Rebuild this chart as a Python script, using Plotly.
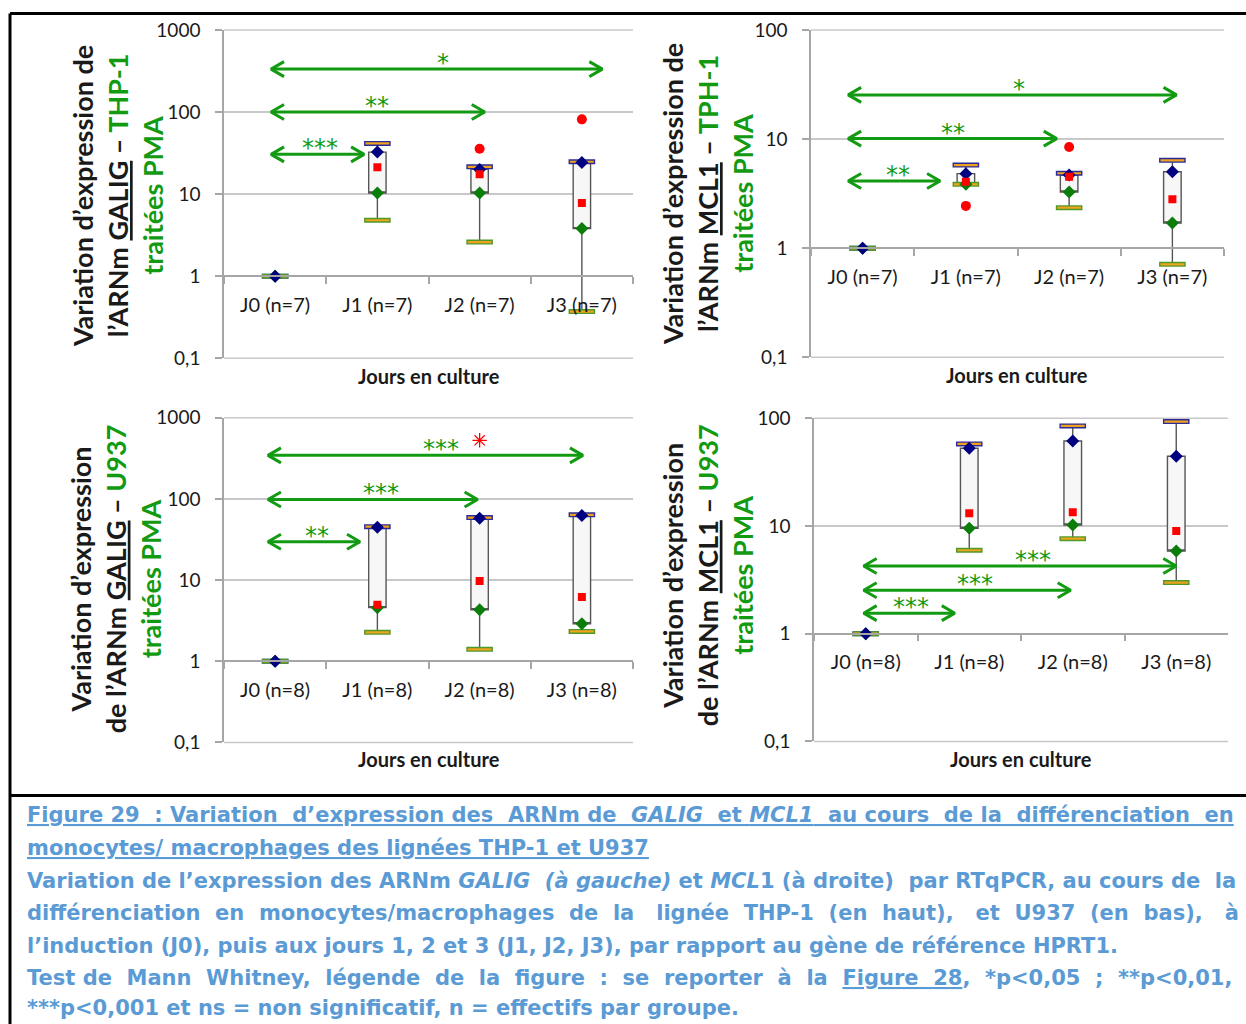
import math
import plotly.graph_objects as go

W, H = 1246, 1024

# ---------------- data ----------------
days_thp1 = ["J0 (n=7)", "J1 (n=7)", "J2 (n=7)", "J3 (n=7)"]
days_u937 = ["J0 (n=8)", "J1 (n=8)", "J2 (n=8)", "J3 (n=8)"]

# GALIG - THP-1
galig_thp1_min = [1.0, 4.8, 2.6, 0.37]
galig_thp1_q1 = [1.0, 10.3, 10.3, 3.8]
galig_thp1_med = [1.0, 21.3, 17.5, 7.8]
galig_thp1_q3 = [1.0, 32.5, 20.0, 24.3]
galig_thp1_max = [1.0, 41.5, 21.5, 24.8]
galig_thp1_out_day = ["J2 (n=7)", "J3 (n=7)"]
galig_thp1_out_val = [35.7, 81.5]

# MCL1 - THP-1
mcl1_thp1_min = [1.0, 3.85, 2.35, 0.71]
mcl1_thp1_q1 = [1.0, 3.85, 3.27, 1.70]
mcl1_thp1_med = [1.0, 4.07, 4.52, 2.81]
mcl1_thp1_q3 = [1.0, 4.82, 4.69, 5.02]
mcl1_thp1_max = [1.0, 5.78, 4.86, 6.38]
mcl1_thp1_out_day = ["J1 (n=7)", "J2 (n=7)"]
mcl1_thp1_out_val = [2.44, 8.45]

# GALIG - U937
galig_u937_min = [1.0, 2.27, 1.40, 2.33]
galig_u937_q1 = [1.0, 4.57, 4.31, 2.90]
galig_u937_med = [1.0, 4.98, 9.77, 6.20]
galig_u937_q3 = [1.0, 44.7, 57.6, 62.3]
galig_u937_max = [1.0, 45.5, 58.9, 63.6]
galig_u937_star_day = ["J2 (n=8)"]
galig_u937_star_val = [527.0]

# MCL1 - U937
mcl1_u937_min = [1.0, 5.95, 7.62, 2.98]
mcl1_u937_q1 = [1.0, 9.52, 10.2, 5.86]
mcl1_u937_med = [1.0, 13.1, 13.4, 8.99]
mcl1_u937_q3 = [1.0, 52.6, 61.5, 44.4]
mcl1_u937_max = [1.0, 57.7, 84.8, 93.0]

# significance arrows (category units: J0=0 ... J3=3)
sig_galig_thp1_from = [-0.04, -0.04, -0.04]
sig_galig_thp1_to = [3.2, 2.05, 0.87]
sig_galig_thp1_level = [334, 100, 30.5]
sig_galig_thp1_label = ["*", "**", "***"]
sig_galig_thp1_label_x = [1.64, 1.0, 0.44]

sig_mcl1_thp1_from = [-0.14, -0.14, -0.14]
sig_mcl1_thp1_to = [3.04, 1.88, 0.75]
sig_mcl1_thp1_level = [25.4, 10.1, 4.13]
sig_mcl1_thp1_label = ["*", "**", "**"]
sig_mcl1_thp1_label_x = [1.51, 0.88, 0.34]

sig_galig_u937_from = [-0.07, -0.07, -0.07]
sig_galig_u937_to = [3.01, 1.98, 0.83]
sig_galig_u937_level = [344, 98.3, 29.7]
sig_galig_u937_label = ["***", "***", "**"]
sig_galig_u937_label_x = [1.62, 1.04, 0.41]

sig_mcl1_u937_from = [-0.02, -0.02, -0.02]
sig_mcl1_u937_to = [3.0, 1.98, 0.86]
sig_mcl1_u937_level = [4.25, 2.53, 1.55]
sig_mcl1_u937_label = ["***", "***", "***"]
sig_mcl1_u937_label_x = [1.62, 1.06, 0.44]

ticks_1000 = [0.1, 1, 10, 100, 1000]
ticks_1000_text = ["0,1", "1", "10", "100", "1000"]
ticks_100 = [0.1, 1, 10, 100]
ticks_100_text = ["0,1", "1", "10", "100"]

GREEN = "#129a12"
FONT = "Lato"

titles = [
    "Variation d\u2019expression de<br>l\u2019ARNm <u>GALIG</u> \u2013 <span style='color:%s'>THP-1</span><br><span style='color:%s'>trait\u00e9es PMA</span>" % (GREEN, GREEN),
    "Variation d\u2019expression de<br>l\u2019ARNm <u>MCL1</u> \u2013 <span style='color:%s'>TPH-1</span><br><span style='color:%s'>trait\u00e9es PMA</span>" % (GREEN, GREEN),
    "Variation d\u2019expression<br>de l\u2019ARNm <u>GALIG</u> \u2013 <span style='color:%s'>U937</span><br><span style='color:%s'>trait\u00e9es PMA</span>" % (GREEN, GREEN),
    "Variation d\u2019expression<br>de l\u2019ARNm <u>MCL1</u> \u2013 <span style='color:%s'>U937</span><br><span style='color:%s'>trait\u00e9es PMA</span>" % (GREEN, GREEN),
]

panels = [
    dict(cats=days_thp1, mn=galig_thp1_min, q1=galig_thp1_q1, med=galig_thp1_med, q3=galig_thp1_q3, mx=galig_thp1_max,
         out_day=galig_thp1_out_day, out_val=galig_thp1_out_val, star_day=[], star_val=[],
         sfrom=sig_galig_thp1_from, sto=sig_galig_thp1_to, slev=sig_galig_thp1_level, slab=sig_galig_thp1_label, slx=sig_galig_thp1_label_x,
         xpx=(224, 633), ypx=(29, 357), yr=(-1, 3), tv=ticks_1000, tt=ticks_1000_text,
         title_px=(117, 195), xt_px=(429, 375)),
    dict(cats=days_thp1, mn=mcl1_thp1_min, q1=mcl1_thp1_q1, med=mcl1_thp1_med, q3=mcl1_thp1_q3, mx=mcl1_thp1_max,
         out_day=mcl1_thp1_out_day, out_val=mcl1_thp1_out_val, star_day=[], star_val=[],
         sfrom=sig_mcl1_thp1_from, sto=sig_mcl1_thp1_to, slev=sig_mcl1_thp1_level, slab=sig_mcl1_thp1_label, slx=sig_mcl1_thp1_label_x,
         xpx=(811, 1224), ypx=(29, 356), yr=(-1, 2), tv=ticks_100, tt=ticks_100_text,
         title_px=(707, 193), xt_px=(1017, 374)),
    dict(cats=days_u937, mn=galig_u937_min, q1=galig_u937_q1, med=galig_u937_med, q3=galig_u937_q3, mx=galig_u937_max,
         out_day=[], out_val=[], star_day=galig_u937_star_day, star_val=galig_u937_star_val,
         sfrom=sig_galig_u937_from, sto=sig_galig_u937_to, slev=sig_galig_u937_level, slab=sig_galig_u937_label, slx=sig_galig_u937_label_x,
         xpx=(224, 633), ypx=(416.5, 741), yr=(-1, 3), tv=ticks_1000, tt=ticks_1000_text,
         title_px=(115, 577), xt_px=(429, 758)),
    dict(cats=days_u937, mn=mcl1_u937_min, q1=mcl1_u937_q1, med=mcl1_u937_med, q3=mcl1_u937_q3, mx=mcl1_u937_max,
         out_day=[], out_val=[], star_day=[], star_val=[],
         sfrom=sig_mcl1_u937_from, sto=sig_mcl1_u937_to, slev=sig_mcl1_u937_level, slab=sig_mcl1_u937_label, slx=sig_mcl1_u937_label_x,
         xpx=(814, 1228), ypx=(417, 740), yr=(-1, 2), tv=ticks_100, tt=ticks_100_text,
         title_px=(707, 574), xt_px=(1021, 758)),
]

# observed vertical mapping of the rendered page (offset, scale) -> compensate
Y_OFF, Y_SCALE = 11.0, 0.977


def px_x(x):
    return x / W


def px_y(y):
    yin = (y - Y_OFF) / Y_SCALE
    return 1 - yin / H


fig = go.Figure()
layout = dict(width=W, height=H, margin=dict(l=0, r=0, t=0, b=0),
              paper_bgcolor="white", plot_bgcolor="white", showlegend=False,
              font=dict(family=FONT, color="#1a1a1a"))
annotations = []
shapes = []

AXIS_GRAY = "#a6a6a6"
GRID_GRAY = "#c8c8c8"

for i, p in enumerate(panels, start=1):
    ov = i + 4
    xa = "x" if i == 1 else "x%d" % i
    ya = "y" if i == 1 else "y%d" % i
    xo = "x%d" % ov
    xdom = [px_x(p["xpx"][0]), px_x(p["xpx"][1])]
    ydom = [px_y(p["ypx"][1]), px_y(p["ypx"][0])]
    r0, r1 = p["yr"]
    pos1 = ydom[0] + (0 - r0) / (r1 - r0) * (ydom[1] - ydom[0])

    layout["xaxis" if i == 1 else "xaxis%d" % i] = dict(
        type="category", categoryorder="array", categoryarray=p["cats"],
        domain=xdom, anchor="free", position=pos1, range=[-0.5, 3.5],
        showline=True, linecolor=AXIS_GRAY, linewidth=1.5,
        ticks="outside", tickson="boundaries", ticklen=7, tickcolor=AXIS_GRAY, tickwidth=1.5,
        tickfont=dict(family=FONT, size=20, color="#1a1a1a"), ticklabelstandoff=11,
        showgrid=False, zeroline=False, fixedrange=True)
    layout["yaxis" if i == 1 else "yaxis%d" % i] = dict(
        type="log", domain=ydom, anchor=xa, range=[r0, r1],
        showline=True, linecolor=AXIS_GRAY, linewidth=1.5,
        ticks="outside", ticklen=7, tickcolor=AXIS_GRAY, tickwidth=1.5,
        tickvals=p["tv"], ticktext=p["tt"],
        tickfont=dict(family=FONT, size=19, color="#1a1a1a"), ticklabelstandoff=11,
        showgrid=True, gridcolor=GRID_GRAY, gridwidth=1.5, zeroline=False, fixedrange=True)
    layout["xaxis%d" % ov] = dict(
        overlaying=xa, anchor=ya, range=[-0.5, 3.5], visible=False, fixedrange=True)

    # edge lines (0,1 and top)
    for yy in (0, 1):
        shapes.append(dict(type="line", xref="%s domain" % xa, yref="%s domain" % ya,
                           x0=0, x1=1, y0=yy, y1=yy, line=dict(color=GRID_GRAY, width=1.5), layer="below"))

    # box: Q1-Q3, whiskers min-max
    fig.add_trace(go.Box(
        x=p["cats"], q1=p["q1"], median=p["q1"], q3=p["q3"],
        lowerfence=p["mn"], upperfence=p["mx"], width=0.17, whiskerwidth=0,
        fillcolor="#f7f7f7", line=dict(color="#555555", width=1.4),
        boxpoints=False, hoverinfo="skip", xaxis=xa, yaxis=ya))

    # caps
    for vals, border in ((p["mx"], "#2b2b9a"), (p["mn"], "#4c9a2a")):
        fig.add_trace(go.Scatter(x=p["cats"], y=vals, mode="markers", xaxis=xa, yaxis=ya,
                                 marker=dict(symbol="line-ew", size=19, line=dict(color=border, width=5)),
                                 hoverinfo="skip"))
        fig.add_trace(go.Scatter(x=p["cats"], y=vals, mode="markers", xaxis=xa, yaxis=ya,
                                 marker=dict(symbol="line-ew", size=17, line=dict(color="#f0a21e", width=2.2)),
                                 hoverinfo="skip"))
    # q1 green diamond, q3 navy diamond
    fig.add_trace(go.Scatter(x=p["cats"], y=p["q1"], mode="markers", xaxis=xa, yaxis=ya,
                             marker=dict(symbol="diamond", size=10, color="#0a7d0a"), hoverinfo="skip"))
    fig.add_trace(go.Scatter(x=p["cats"], y=p["q3"], mode="markers", xaxis=xa, yaxis=ya,
                             marker=dict(symbol="diamond", size=10, color="#000080"), hoverinfo="skip"))
    # median red square (not on J0)
    fig.add_trace(go.Scatter(x=p["cats"][1:], y=p["med"][1:], mode="markers", xaxis=xa, yaxis=ya,
                             marker=dict(symbol="square", size=8, color="#ff0000"), hoverinfo="skip"))
    # outliers
    if p["out_day"]:
        fig.add_trace(go.Scatter(x=p["out_day"], y=p["out_val"], mode="markers", xaxis=xa, yaxis=ya,
                                 marker=dict(symbol="circle", size=10, color="#ff0000"), hoverinfo="skip"))
    if p["star_day"]:
        fig.add_trace(go.Scatter(x=p["star_day"], y=p["star_val"], mode="markers", xaxis=xa, yaxis=ya,
                                 marker=dict(symbol="asterisk-open", size=12, color="#ff0000",
                                             line=dict(color="#ff0000", width=1.3)),
                                 hoverinfo="skip"))

    # significance arrows
    cat_px = (p["xpx"][1] - p["xpx"][0]) / 4.0
    dec_px = (p["ypx"][1] - p["ypx"][0]) / (r1 - r0)
    L = 13.0 / cat_px
    k = 10 ** (7.5 / dec_px)
    ax_, ay_ = [], []
    for a, b, v in zip(p["sfrom"], p["sto"], p["slev"]):
        ax_ += [a, b, None, a + L, a, a + L, None, b - L, b, b - L, None]
        ay_ += [v, v, None, v * k, v, v / k, None, v * k, v, v / k, None]
    fig.add_trace(go.Scatter(x=ax_, y=ay_, mode="lines", xaxis=xo, yaxis=ya,
                             line=dict(color=GREEN, width=3), hoverinfo="skip", connectgaps=False))
    for lx, v, lab in zip(p["slx"], p["slev"], p["slab"]):
        annotations.append(dict(x=lx, y=math.log10(v), xref=xo, yref=ya, text=lab, showarrow=False,
                                xanchor="center", yanchor="middle", yshift=6,
                                font=dict(family="DejaVu Sans", size=24, color=GREEN)))

    # titles
    annotations.append(dict(x=px_x(p["title_px"][0]), y=px_y(p["title_px"][1]), xref="paper", yref="paper",
                            text=titles[i - 1], textangle=-90, showarrow=False, align="center",
                            xanchor="center", yanchor="middle",
                            font=dict(family=FONT, size=27, color="#1a1a1a", weight="bold")))
    annotations.append(dict(x=px_x(p["xt_px"][0]), y=px_y(p["xt_px"][1]), xref="paper", yref="paper",
                            text="Jours en culture", showarrow=False, xanchor="center", yanchor="middle",
                            font=dict(family=FONT, size=20, color="#1a1a1a", weight="bold")))

# frame
top_y = 1 - 1.5 / H
for x0, y0, x1, y1 in ((10, top_y, W, top_y), (10, top_y, 10, -0.02), (10, px_y(794), W, px_y(794))):
    shapes.append(dict(type="line", xref="paper", yref="paper", x0=px_x(x0), y0=y0,
                       x1=px_x(x1), y1=y1, line=dict(color="black", width=3)))

# caption
CAP = "#5b9bd5"
caption_lines = [
    "<u>Figure 29 : Variation d\u2019expression des ARNm de <i>GALIG</i> et <i>MCL1</i> au cours de la diff\u00e9renciation en</u>",
    "<u>monocytes/ macrophages des lign\u00e9es THP-1 et U937</u>",
    "Variation de l\u2019expression des ARNm <i>GALIG (\u00e0 gauche)</i> et <i>MCL</i>1 (\u00e0 droite) par RTqPCR, au cours de la",
    "diff\u00e9renciation en monocytes/macrophages de la lign\u00e9e THP-1 (en haut), et U937 (en bas), \u00e0",
    "l\u2019induction (J0), puis aux jours 1, 2 et 3 (J1, J2, J3), par rapport au g\u00e8ne de r\u00e9f\u00e9rence HPRT1.",
    "Test de Mann Whitney, l\u00e9gende de la figure : se reporter \u00e0 la <u>Figure 28</u>, *p&lt;0,05 ; **p&lt;0,01,",
    "***p&lt;0,001 et ns = non significatif, n = effectifs par groupe.",
]
# extra spaces spread over the gaps to mimic the justified paragraph
caption_extra_spaces = [9, 0, 3, 16, 0, 16, 0]
caption_y = [814, 847, 880, 912, 944, 976, 1006]


def justify(text, extra):
    words = text.split(" ")
    gaps = len(words) - 1
    if extra <= 0 or gaps <= 0:
        return text
    out = words[0]
    for g in range(gaps):
        n = (extra * (g + 1)) // gaps - (extra * g) // gaps
        out += " " + "\u00a0" * n + words[g + 1]
    return out


for t, n, yy in zip(caption_lines, caption_extra_spaces, caption_y):
    annotations.append(dict(x=px_x(25), y=px_y(yy), xref="paper", yref="paper", text=justify(t, n),
                            showarrow=False, xanchor="left", yanchor="middle", align="left",
                            font=dict(family="DejaVu Sans", size=21, color=CAP, weight="bold")))

layout["annotations"] = annotations
layout["shapes"] = shapes
fig.update_layout(**layout)
fig.write_html(
    "out.html",
    config={"displayModeBar": False},
    post_script="document.body.style.margin='0';document.body.style.overflow='hidden';"
                "var d=document.getElementById('{plot_id}');d.style.position='fixed';d.style.left='0';d.style.top='0';",
)
